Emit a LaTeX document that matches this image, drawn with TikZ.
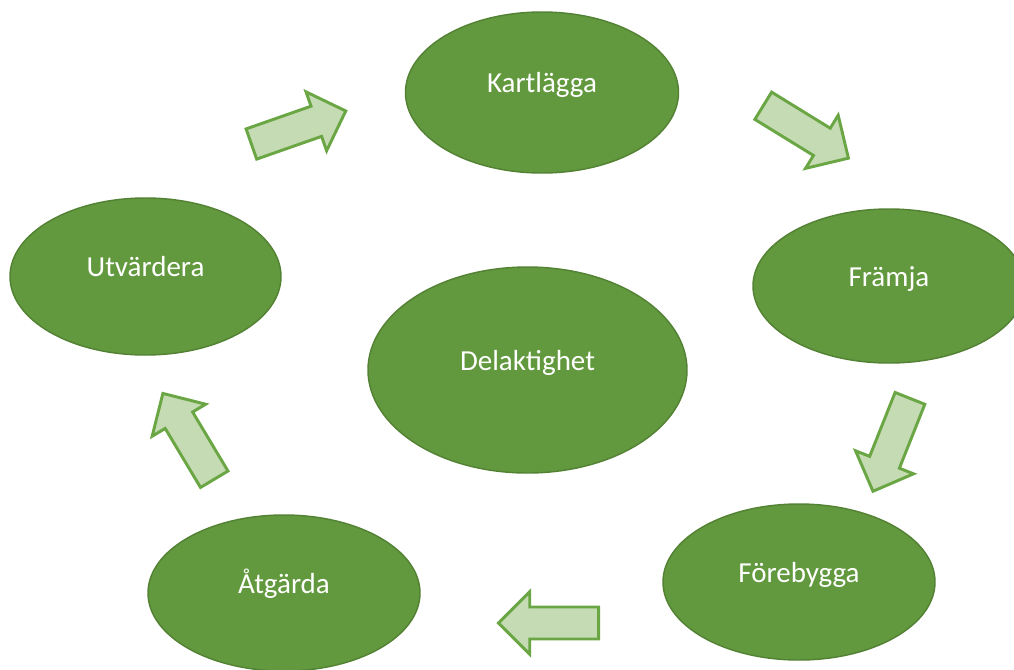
\documentclass[tikz,border=0pt]{standalone}
\usepackage{fontspec}
\setmainfont{Carlito}
\usetikzlibrary{shapes.geometric, shapes.arrows, positioning}
\definecolor{LeafGreen}{HTML}{62993E}
\definecolor{LeafEdge}{HTML}{548235}
\definecolor{PaleGreen}{HTML}{C5DBB3}
\definecolor{ArrowEdge}{HTML}{6AA644}

\begin{document}
\begin{tikzpicture}[x=0.75pt, y=-0.75pt,
    phase/.style={ellipse, fill=LeafGreen, draw=LeafEdge, line width=1.1pt,
          text=white, font=\fontsize{21.75}{26}\selectfont,
          text height=0.7em, text depth=0.7em},
    flow/.style={single arrow, fill=PaleGreen, draw=ArrowEdge, line width=2.2pt,
          inner xsep=0pt, inner ysep=10.9pt, minimum height=75pt,
          single arrow head extend=11.4pt, anchor=tail}]
    \useasboundingbox (0,0) rectangle (1014,669);

    % Cycle steps
    \node[phase, minimum width=204.75pt, minimum height=120.75pt] (kart) at (542,92.5) {Kartlägga};
    \node[phase, minimum width=204pt, minimum height=115.5pt] (fram) at (889,286) {Främja};
    \node[phase, minimum width=204pt, minimum height=117pt] (fore) at (799,582) {Förebygga};
    \node[phase, minimum width=204pt, minimum height=117pt] (atg) at (284,593) {Åtgärda};
    \node[phase, minimum width=203.25pt, minimum height=117.75pt] (utv) at (145.5,276.5) {Utvärdera};

    % Centre
    \node[phase, minimum width=239.25pt, minimum height=154.5pt] (del) at (527.5,370) {Delaktighet};

    % Arrows between steps
    \node[flow, rotate=19.3] (utv-kart) at (250,144.5) {};
    \node[flow, rotate=-31.6] (kart-fram) at (762,105) {};
    \node[flow, rotate=-111.7] (fram-fore) at (910.5,397) {};
    \node[flow, rotate=180] (fore-atg) at (600,623) {};
    \node[flow, rotate=120.9] (atg-utv) at (215,480.5) {};
\end{tikzpicture}
\end{document}
